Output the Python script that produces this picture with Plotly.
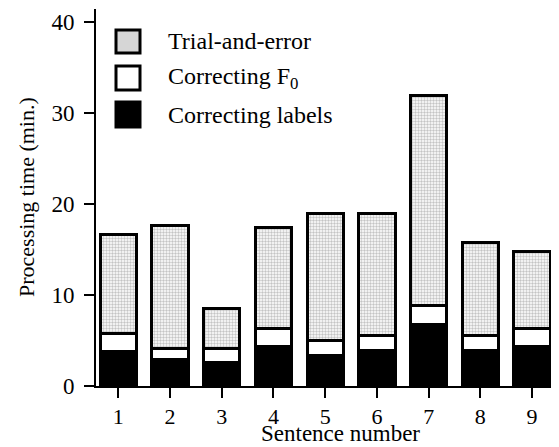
import plotly.graph_objects as go

sentences = [1, 2, 3, 4, 5, 6, 7, 8, 9]
correcting_labels = [3.8, 2.9, 2.6, 4.3, 3.3, 3.9, 6.7, 3.9, 4.3]
correcting_f0 = [2.0, 1.2, 1.5, 2.0, 1.75, 1.6, 2.1, 1.6, 2.0]
trial_and_error = [10.8, 13.5, 4.4, 11.1, 13.85, 13.4, 23.1, 10.3, 8.5]
legend_names = ["Trial-and-error", "Correcting F<sub>0</sub>", "Correcting labels"]
y_ticks = [0, 10, 20, 30, 40]

FONT = "Liberation Serif, Times New Roman, serif"
OFF = 8                      # page body margin offset
W, H = 559 - OFF, 447 - OFF
L, T = 96 - OFF, 9 - OFF     # plot area left/top in figure pixels
B = H - (386 - OFF)
R = 0
pw, ph = W - L - R, H - T - B

def px_x(px):
    return (px - OFF - L) / pw

def px_y(py):
    return (H - B - (py - OFF)) / ph

line = dict(color="black", width=3)
fig = go.Figure()
fig.add_trace(go.Bar(x=sentences, y=correcting_labels, name=legend_names[2],
                     marker=dict(color="black", line=line), width=0.7))
fig.add_trace(go.Bar(x=sentences, y=correcting_f0, name=legend_names[1],
                     marker=dict(color="white", line=line), width=0.7))
fig.add_trace(go.Bar(x=sentences, y=trial_and_error, name=legend_names[0],
                     marker=dict(color="white", line=line,
                                 pattern=dict(shape=".", fgcolor="#8a8a8a", bgcolor="white",
                                              size=3, solidity=0.5)),
                     width=0.7))

shapes = []
annotations = []
legend_rows = [(30, 53, "#d6d6d6"), (66, 90, "white"), (102, 127, "black")]
for (y0, y1, col), name in zip(legend_rows, legend_names):
    shapes.append(dict(type="rect", xref="paper", yref="paper",
                       x0=px_x(116), x1=px_x(140), y0=px_y(y1), y1=px_y(y0),
                       fillcolor=col, line=dict(color="black", width=3)))
    annotations.append(dict(xref="paper", yref="paper", x=px_x(166), y=px_y((y0 + y1) / 2),
                            text=name, showarrow=False, xanchor="left", yanchor="middle",
                            font=dict(family=FONT, size=24, color="black")))

annotations.append(dict(xref="paper", yref="paper", x=px_x(340), y=px_y(447),
                        text="Sentence number", showarrow=False, xanchor="center",
                        yanchor="bottom", borderpad=0,
                        font=dict(family=FONT, size=23, color="black")))
annotations.append(dict(xref="paper", yref="paper", x=px_x(26), y=px_y(197),
                        text="Processing time (min.)", showarrow=False, textangle=-90,
                        xanchor="center", yanchor="middle",
                        font=dict(family=FONT, size=22, color="black")))

fig.update_layout(
    width=W, height=H, barmode="stack", showlegend=False,
    margin=dict(l=L, r=R, t=T, b=B),
    paper_bgcolor="white", plot_bgcolor="white",
    font=dict(family=FONT, size=22, color="black"),
    shapes=shapes, annotations=annotations,
    xaxis=dict(range=[0.57, 9.52], tickmode="array", tickvals=sentences,
               ticktext=[str(s) for s in sentences], showgrid=False, zeroline=False,
               showline=True, linecolor="black", linewidth=2,
               ticks="outside", ticklen=10, tickwidth=2, tickcolor="black",
               tickfont=dict(family=FONT, size=22, color="black")),
    yaxis=dict(range=[0, 41.4], tickmode="array", tickvals=y_ticks, showgrid=False,
               zeroline=False, showline=True, linecolor="black", linewidth=2,
               ticks="outside", ticklen=10, tickwidth=2, tickcolor="black",
               ticklabelstandoff=5,
               tickfont=dict(family=FONT, size=23, color="black")),
)

fig.write_html("out.html")
